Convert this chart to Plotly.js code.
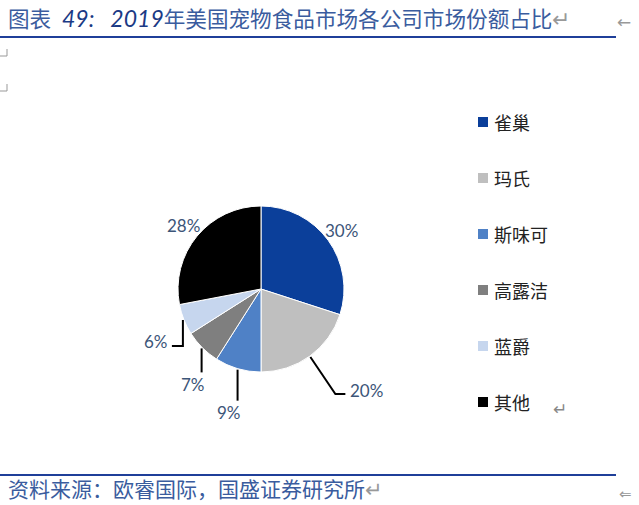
<!DOCTYPE html>
<html>
<head>
<meta charset="utf-8">
<script src="https://cdn.plot.ly/plotly-3.0.1.min.js"></script>
<style>html,body{margin:0;padding:0;background:#fff;}#chart{width:639px;height:505px;}</style>
</head>
<body>
<div id="chart"></div>
<script>
// ---- data ----
const categories = ['雀巢', '玛氏', '斯味可', '高露洁', '蓝爵', '其他'];
const shares = [30, 20, 9, 7, 6, 28];
const colors = ['#0B3F9A', '#BFBFBF', '#4F81C6', '#7F7F7F', '#C6D6EE', '#000000'];
const titleText = '年美国宠物食品市场各公司市场份额占比';
const sourceText = '资料来源：欧睿国际，国盛证券研究所';

// ---- geometry helpers (style / layout) ----
const W = 639, H = 505;
const cx = 261, cy = 289, R = 83;
const px = x => x / W;
const py = y => 1 - y / H;

// leader style per slice: null = label near the edge, otherwise [dx, dy, hx]
const leaders = [null, [25, 37, 10], [0, 31, 0], [0, 24, 0], [0, 26, -11], null];

const total = shares.reduce((a, b) => a + b, 0);
const shapes = [];
const annotations = [];
let cum = 0;
shares.forEach((v, i) => {
  const mid = (cum + v / 2) / total;
  cum += v;
  const th = 2 * Math.PI * mid;
  const s = Math.sin(th), c = Math.cos(th);
  const label = Math.round(v / total * 100) + '%';
  const font = {family: 'Lato, "Liberation Sans", sans-serif', size: 17, color: '#3C5578'};
  const L = leaders[i];
  if (!L) {
    const r = 100;
    annotations.push({xref: 'paper', yref: 'paper', x: px(cx + r * s), y: py(cy - r * c),
      text: label, showarrow: false, xanchor: 'center', yanchor: 'middle', font});
  } else {
    const ex = cx + (R + 1) * s, ey = cy - (R + 1) * c;
    const bx = ex + L[0], by = ey + L[1];
    const fx = bx + L[2], fy = by;
    shapes.push({type: 'path', xref: 'paper', yref: 'paper',
      path: `M ${px(ex)} ${py(ey)} L ${px(bx)} ${py(by)} L ${px(fx)} ${py(fy)}`,
      line: {color: '#000000', width: 2}});
    let ax, ay, xa;
    if (L[2] > 0) { ax = fx + 3; ay = fy - 3; xa = 'left'; }
    else if (L[2] < 0) { ax = fx - 2; ay = fy - 4; xa = 'right'; }
    else { ax = fx - 9; ay = fy + 12; xa = 'center'; }
    annotations.push({xref: 'paper', yref: 'paper', x: px(ax), y: py(ay),
      text: label, showarrow: false, xanchor: xa, yanchor: 'middle', font});
  }
});

// legend (drawn manually to match spacing)
categories.forEach((name, i) => {
  const y = 122 + 56 * i;
  shapes.push({type: 'rect', xref: 'paper', yref: 'paper',
    x0: px(478), x1: px(488), y0: py(y + 5), y1: py(y - 5),
    fillcolor: colors[i], line: {width: 0}});
  annotations.push({xref: 'paper', yref: 'paper', x: px(492), y: py(y),
    text: name, showarrow: false, xanchor: 'left', yanchor: 'middle',
    font: {family: '"Noto Sans CJK SC", sans-serif', size: 18, color: '#222222'}});
});
annotations.push({xref: 'paper', yref: 'paper', x: px(551), y: py(409), text: '↵',
  showarrow: false, xanchor: 'left', yanchor: 'middle', font: {family: 'DejaVu Sans', size: 17, color: '#888888'}});

// title
annotations.push({xref: 'paper', yref: 'paper', x: px(6), y: py(17),
  text: '<span style="color:#3A5C9E">图表\u2002</span><i><span style="color:#1B3A85;font-family:Lato;font-size:23px">49:\u2002 2019</span></i>' + titleText + '<span style="color:#999999">↵</span>',
  showarrow: false, xanchor: 'left', yanchor: 'middle',
  font: {family: '"Noto Sans CJK SC", sans-serif', size: 21.6, color: '#3A5C9E'}});
annotations.push({xref: 'paper', yref: 'paper', x: px(615), y: py(22), text: '←',
  showarrow: false, xanchor: 'left', yanchor: 'middle', font: {family: 'DejaVu Sans', size: 17, color: '#999999'}});
// source
annotations.push({xref: 'paper', yref: 'paper', x: px(6), y: py(488),
  text: sourceText + '<span style="color:#999999">↵</span>',
  showarrow: false, xanchor: 'left', yanchor: 'middle',
  font: {family: '"Noto Sans CJK SC", sans-serif', size: 21, color: '#3A5C9E'}});
annotations.push({xref: 'paper', yref: 'paper', x: px(617), y: py(494), text: '⇐',
  showarrow: false, xanchor: 'left', yanchor: 'middle', font: {family: 'DejaVu Sans', size: 15, color: '#999999'}});

// rules
shapes.push({type: 'line', xref: 'paper', yref: 'paper', x0: 0, x1: px(616), y0: py(37), y1: py(37), line: {color: '#1F3F99', width: 2}});
shapes.push({type: 'line', xref: 'paper', yref: 'paper', x0: 0, x1: px(616), y0: py(475), y1: py(475), line: {color: '#1F3F99', width: 2}});
// corner marks
[56, 91].forEach(y => {
  shapes.push({type: 'path', xref: 'paper', yref: 'paper',
    path: `M ${px(0)} ${py(y)} L ${px(7)} ${py(y)} L ${px(7)} ${py(y - 7)}`,
    line: {color: '#999999', width: 1}});
});

const trace = {
  type: 'pie',
  labels: categories,
  values: shares,
  sort: false,
  direction: 'clockwise',
  rotation: 0,
  textinfo: 'none',
  hoverinfo: 'label+percent',
  marker: {colors: colors, line: {color: '#ffffff', width: 1}},
  domain: {x: [px(cx - R), px(cx + R)], y: [py(cy + R), py(cy - R)]},
  showlegend: false
};

Plotly.newPlot('chart', [trace], {
  width: W, height: H,
  margin: {l: 0, r: 0, t: 0, b: 0},
  paper_bgcolor: '#ffffff',
  showlegend: false,
  shapes, annotations
}, {displayModeBar: false, staticPlot: true});
</script>
</body>
</html>
